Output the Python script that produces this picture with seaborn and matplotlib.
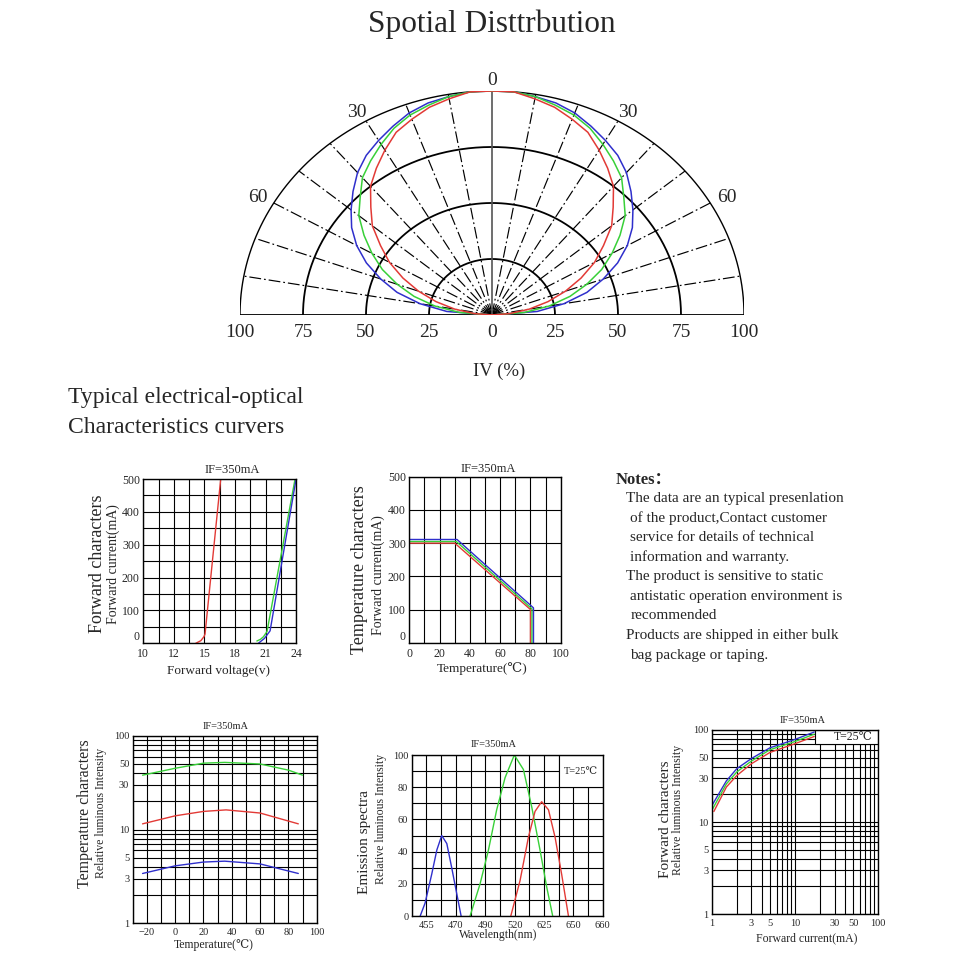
import numpy as np
import matplotlib
matplotlib.use("Agg")
import matplotlib.pyplot as plt
import seaborn as sns
from matplotlib.patches import Rectangle
from matplotlib.ticker import NullFormatter

sns.set_style("white")
plt.rcParams["font.family"] = ["Liberation Serif", "DejaVu Serif"]

RED, GREEN, BLUE = "#e23a36", "#38d038", "#2f2fcc"

# ---------------------------------------------------------------------
# data
# ---------------------------------------------------------------------
# spatial distribution: relative intensity (%) vs half angle (deg), symmetric
ANGLES = [0, 5, 10, 15, 20, 25, 30, 35, 40, 45, 50, 55, 60, 65, 70, 75, 80, 85, 90]
IV_BLUE = [100, 100, 99, 98, 96, 93, 90, 87, 83, 78, 73, 68, 62, 55, 47, 39, 29, 18, 0]
IV_GREEN = [100, 100, 99, 97, 95, 92, 88, 84, 80, 74, 69, 62, 55, 48, 40, 32, 23, 13, 0]
IV_RED = [100, 100, 98, 96, 93, 90, 85, 80, 75, 68, 62, 54, 47, 39, 31, 23, 15, 7, 0]
RINGS = [25, 50, 75, 100]
SPOKES = [-80, -70, -60, -50, -40, -30, -20, -10, 10, 20, 30, 40, 50, 60, 70, 80]
ANGLE_LABELS = [-60, -30, 0, 30, 60]

# forward characters: current (mA) vs voltage (V)
VF_TICKS = [10, 12, 15, 18, 21, 24]
VF_RED = [14.15, 14.65, 14.95, 15.06, 16.6]
IF_RED = [0, 8, 20, 28, 500]
VF_GREEN = [20.15, 20.5, 20.8, 21.15, 23.9]
IF_GREEN = [7, 12, 20, 36, 500]
VF_BLUE = [20.3, 20.9, 21.45, 24.0]
IF_BLUE = [0, 15, 38, 500]

# temperature derating: current (mA) vs temperature
T_RED = [0, 30, 80, 80]
I_RED = [300, 300, 100, 0]
T_GREEN = [0, 31, 81, 81]
I_GREEN = [305, 305, 102, 0]
T_BLUE = [0, 31.5, 82, 82]
I_BLUE = [311, 311, 105, 0]

# temperature vs relative luminous intensity
TL_GREEN = [-23, 0, 20, 35, 60, 80, 90]
L_GREEN = [38, 45, 51, 52, 50, 43, 38]
TL_RED = [-23, 0, 20, 36, 60, 87]
L_RED = [11.5, 14, 15.6, 16.2, 15, 11.5]
TL_BLUE = [-23, 0, 20, 35, 60, 87]
L_BLUE = [3.4, 4.1, 4.5, 4.6, 4.3, 3.4]

# emission spectra
WL_TICKS = [455, 470, 490, 520, 625, 650, 660]
WL_BLUE = [451.8, 454.3, 457.7, 460.3, 462.8, 465.4, 467.9, 470.6, 473.6]
S_BLUE = [0, 8, 26, 41, 50, 45, 30, 14, 0]
WL_GREEN = [479.7, 486.5, 493.3, 501.7, 510.3, 519.7, 551.5, 580.9, 610.8, 627.3, 632.4]
S_GREEN = [0, 20, 41, 66, 86, 100, 91, 68, 41, 18, 0]
WL_RED = [516.1, 539.4, 569.4, 593.0, 616.6, 628.8, 634.4, 640.0, 645.8]
S_RED = [0, 22, 49, 65, 71, 66, 49, 26, 0]

# forward current vs relative luminous intensity
IFL_BLUE = [1.0, 1.5, 2, 3, 5, 10, 17]
LF_BLUE = [15, 28, 38, 49, 64, 79, 95]
IFL_GREEN = [1.03, 1.5, 2, 3, 5, 10, 17]
LF_GREEN = [14, 26, 35, 46, 61, 75, 90]
IFL_RED = [1.06, 1.5, 2, 3, 5, 10, 17]
LF_RED = [13, 24, 32, 43, 57, 71, 85]
LOG_TICKS = [1, 3, 5, 10, 30, 50, 100]

NOTES = [
    (0, "The data are an typical presenlation"),
    (1, "of the product,Contact customer"),
    (1, "service for details of technical"),
    (1, "information and warranty."),
    (0, "The product is sensitive to static"),
    (1, "antistatic operation environment is"),
    (1, "recommended"),
    (0, "Products are shipped in either bulk"),
    (1, "bag package or taping."),
]

fig = plt.figure(figsize=(9.6, 9.6), dpi=100)

fig.text(0.5125, 0.975, "Spotial Disttrbution", ha="center", va="center", fontsize=22.5)

# ---------------------------------------------------------------------
# spatial distribution (drawn as half polar in a cartesian frame)
# ---------------------------------------------------------------------
ax0 = fig.add_axes([0.25, 0.6719, 0.525, 0.2333])
ax0.set_xlim(-100, 100)
ax0.set_ylim(0, 100)
ax0.axis("off")

t = np.linspace(0, np.pi, 240)
for r in RINGS:
    ax0.plot(r * np.cos(t), r * np.sin(t), color="black", lw=1.0 if r == 100 else 1.3)
for r in [1.5, 3]:
    ax0.plot(r * np.cos(t), r * np.sin(t), color="#444444", lw=1.0)
for a in SPOKES:
    th = np.radians(a)
    ax0.plot([0, 100 * np.sin(th)], [0, 100 * np.cos(th)], color="black",
             lw=0.85, ls=(0, (10, 2.5, 1.5, 2.5)))
ax0.plot([0, 0], [0, 100], color="#555555", lw=1.2)
ax0.plot([-100, 100], [0, 0], color="black", lw=1.3)

ang = np.radians(np.array(ANGLES, dtype=float))
ang_full = np.concatenate([-ang[::-1], ang[1:]])
for vals, col in [(IV_BLUE, BLUE), (IV_GREEN, GREEN), (IV_RED, RED)]:
    v = np.array(vals, dtype=float)
    r_full = np.concatenate([v[::-1], v[1:]])
    sns.lineplot(x=r_full * np.sin(ang_full), y=r_full * np.cos(ang_full), sort=False,
                 estimator=None, color=col, lw=1.1, ax=ax0, legend=False)

for a in ANGLE_LABELS:
    th = np.radians(a)
    ax0.text(107.5 * np.sin(th), 104.5 * np.cos(th), str(abs(a)), ha="center", va="center",
             fontsize=14, clip_on=False)
for r in [-100, -75, -50, -25, 0, 25, 50, 75, 100]:
    ax0.text(r, -8, str(abs(r)), ha="center", va="center", fontsize=14, clip_on=False)
ax0.text(3, -25, "IV (%)", ha="center", va="center", fontsize=13.5, clip_on=False)

fig.text(0.0708, 0.5855, "Typical electrical-optical", va="center", fontsize=17)
fig.text(0.0708, 0.5550, "Characteristics curvers", va="center", fontsize=17)


def style_panel(ax, tick_size):
    ax.set_axisbelow(True)
    ax.tick_params(which="both", length=0, labelsize=tick_size)
    ax.tick_params(axis="x", pad=3.5)
    ax.tick_params(axis="y", pad=2.5)
    ax.grid(True, which="both", color="black", lw=0.8)
    for s in ax.spines.values():
        s.set_color("black")
        s.set_linewidth(1.0)
    ax.set_xlabel("")
    ax.set_ylabel("")


def lines(ax, series):
    for xs, ys, col in series:
        sns.lineplot(x=xs, y=ys, sort=False, estimator=None, color=col, lw=1.0,
                     ax=ax, legend=False)


# ---------------------------------------------------------------------
# panel 1: forward characters
# ---------------------------------------------------------------------
ax1 = fig.add_axes([0.1493, 0.3299, 0.1591, 0.1711])
lines(ax1, [(VF_RED, IF_RED, RED), (VF_GREEN, IF_GREEN, GREEN), (VF_BLUE, IF_BLUE, BLUE)])
pos_v = np.arange(len(VF_TICKS), dtype=float)
ax1.set_xscale("function", functions=(lambda v: np.interp(v, VF_TICKS, pos_v),
                                      lambda p: np.interp(p, pos_v, VF_TICKS)))
ax1.set_xlim(10, 24)
ax1.set_ylim(0, 500)
ax1.set_xticks(VF_TICKS)
ax1.set_xticklabels([str(v) for v in VF_TICKS])
ax1.set_xticks(np.interp(np.arange(0.5, 5, 1.0), pos_v, VF_TICKS), minor=True)
ax1.set_yticks(range(0, 501, 100))
ax1.set_yticks(range(50, 500, 100), minor=True)
style_panel(ax1, 8.5)
ax1.get_yticklabels()[0].set_va("bottom")
ax1.text(0.58, 1.055, "IF=350mA", transform=ax1.transAxes, ha="center", va="center", fontsize=9)
ax1.text(-0.297, 0.483, "Forward characters", transform=ax1.transAxes, rotation=90,
         ha="center", va="center", fontsize=13)
ax1.text(-0.198, 0.483, "Forward current(mA)", transform=ax1.transAxes, rotation=90,
         ha="center", va="center", fontsize=10)
ax1.text(0.49, -0.167, "Forward voltage(v)", transform=ax1.transAxes, ha="center",
         va="center", fontsize=9.5)

# ---------------------------------------------------------------------
# panel 2: temperature characters (derating)
# ---------------------------------------------------------------------
ax2 = fig.add_axes([0.4264, 0.3305, 0.1577, 0.1729])
lines(ax2, [(T_RED, I_RED, RED), (T_GREEN, I_GREEN, GREEN), (T_BLUE, I_BLUE, BLUE)])
ax2.set_xlim(0, 100)
ax2.set_ylim(0, 500)
ax2.set_xticks(range(0, 101, 20))
ax2.set_xticks(range(10, 100, 20), minor=True)
ax2.set_yticks(range(0, 501, 100))
style_panel(ax2, 8.5)
ax2.get_yticklabels()[0].set_va("bottom")
ax2.text(0.52, 1.045, "IF=350mA", transform=ax2.transAxes, ha="center", va="center", fontsize=9)
ax2.text(-0.326, 0.438, "Temperature characters", transform=ax2.transAxes, rotation=90,
         ha="center", va="center", fontsize=13)
ax2.text(-0.206, 0.41, "Forward current(mA)", transform=ax2.transAxes, rotation=90,
         ha="center", va="center", fontsize=10)
ax2.text(0.478, -0.158, "Temperature(\u2103)", transform=ax2.transAxes, ha="center",
         va="center", fontsize=9.5)

# ---------------------------------------------------------------------
# notes
# ---------------------------------------------------------------------
fig.text(0.6417, 1 - 480 / 960, "Notes\uff1a", fontweight="bold", va="center", fontsize=12,
         family=["Liberation Serif", "Noto Sans CJK SC"])
for i, (indent, line) in enumerate(NOTES):
    x0 = (626.5 + 4 * indent) / 960
    y0 = 1 - (498.3 + 19.6 * i) / 960
    fig.text(x0, y0, line, va="center", fontsize=11)

# ---------------------------------------------------------------------
# panel 4: temperature vs relative luminous intensity
# ---------------------------------------------------------------------
ax4 = fig.add_axes([0.1382, 0.0382, 0.1917, 0.1954])
lines(ax4, [(TL_GREEN, L_GREEN, GREEN), (TL_RED, L_RED, RED), (TL_BLUE, L_BLUE, BLUE)])
ax4.set_yscale("log")
ax4.set_xlim(-30, 100)
ax4.set_ylim(1, 100)
ax4.set_xticks(range(-20, 101, 20))
ax4.set_xticks(range(-30, 100, 20), minor=True)
ax4.set_yticks(LOG_TICKS)
ax4.set_yticklabels([str(v) for v in LOG_TICKS])
ax4.yaxis.set_minor_formatter(NullFormatter())
style_panel(ax4, 7.5)
ax4.text(0.506, 1.048, "IF=350mA", transform=ax4.transAxes, ha="center", va="center", fontsize=7.5)
ax4.text(-0.259, 0.583, "Temperature characters", transform=ax4.transAxes, rotation=90,
         ha="center", va="center", fontsize=11.5)
ax4.text(-0.174, 0.59, "Relative luminous Intensity", transform=ax4.transAxes, rotation=90,
         ha="center", va="center", fontsize=8.5)
ax4.text(0.442, -0.116, "Temperature(\u2103)", transform=ax4.transAxes, ha="center",
         va="center", fontsize=8.5)

# ---------------------------------------------------------------------
# panel 5: emission spectra
# ---------------------------------------------------------------------
ax5 = fig.add_axes([0.4289, 0.0458, 0.1990, 0.1677])
lines(ax5, [(WL_BLUE, S_BLUE, BLUE), (WL_GREEN, S_GREEN, GREEN), (WL_RED, S_RED, RED)])
wl_anchor = [447.5] + WL_TICKS
pos_wl = [0.0] + [1.0 + 2 * i for i in range(len(WL_TICKS))]
ax5.set_xscale("function", functions=(lambda v: np.interp(v, wl_anchor, pos_wl),
                                      lambda p: np.interp(p, pos_wl, wl_anchor)))
ax5.set_xlim(447.5, 660)
ax5.set_ylim(0, 100)
ax5.set_xticks(WL_TICKS)
ax5.set_xticklabels([str(v) for v in WL_TICKS])
ax5.set_xticks(np.interp(np.arange(0, 13, 2.0), pos_wl, wl_anchor), minor=True)
ax5.set_yticks(range(0, 101, 20))
ax5.set_yticks(range(10, 100, 20), minor=True)
style_panel(ax5, 7.5)
ax5.add_patch(Rectangle((10 / 13, 0.8), 3 / 13, 0.2, transform=ax5.transAxes,
                        facecolor="white", edgecolor="black", lw=0.8, zorder=1))
ax5.text(11.5 / 13, 0.9, "T=25\u2103", transform=ax5.transAxes, ha="center", va="center",
         fontsize=7.5, zorder=3)
ax5.text(0.426, 1.068, "IF=350mA", transform=ax5.transAxes, ha="center", va="center", fontsize=7.5)
ax5.text(-0.245, 0.46, "Emission spectra", transform=ax5.transAxes, rotation=90,
         ha="center", va="center", fontsize=11)
ax5.text(-0.162, 0.60, "Relative luminous Intensity", transform=ax5.transAxes, rotation=90,
         ha="center", va="center", fontsize=8.5)
ax5.text(0.452, -0.118, "Wavelength(nm)", transform=ax5.transAxes, ha="center",
         va="center", fontsize=8.5)

# ---------------------------------------------------------------------
# panel 6: forward current vs relative luminous intensity
# ---------------------------------------------------------------------
ax6 = fig.add_axes([0.7414, 0.0479, 0.1735, 0.1917])
lines(ax6, [(IFL_BLUE, LF_BLUE, BLUE), (IFL_GREEN, LF_GREEN, GREEN), (IFL_RED, LF_RED, RED)])
ax6.set_xscale("log")
ax6.set_yscale("log")
ax6.set_xlim(1, 100)
ax6.set_ylim(1, 100)
ax6.set_xticks(LOG_TICKS)
ax6.set_xticklabels([str(v) for v in LOG_TICKS])
ax6.set_yticks(LOG_TICKS)
ax6.set_yticklabels([str(v) for v in LOG_TICKS])
ax6.xaxis.set_minor_formatter(NullFormatter())
ax6.yaxis.set_minor_formatter(NullFormatter())
style_panel(ax6, 7.5)
ax6.add_patch(Rectangle((17.5, 70), 82.5, 30, facecolor="white", edgecolor="black",
                        lw=0.8, zorder=1))
ax6.text(0.848, 0.962, "T=25\u2103", transform=ax6.transAxes, ha="center", va="center",
         fontsize=8.5, zorder=3)
ax6.text(0.545, 1.05, "IF=350mA", transform=ax6.transAxes, ha="center", va="center", fontsize=7.5)
ax6.text(-0.28, 0.516, "Forward characters", transform=ax6.transAxes, rotation=90,
         ha="center", va="center", fontsize=11)
ax6.text(-0.202, 0.565, "Relative luminous Intensity", transform=ax6.transAxes, rotation=90,
         ha="center", va="center", fontsize=8.5)
ax6.text(0.57, -0.13, "Forward current(mA)", transform=ax6.transAxes, ha="center",
         va="center", fontsize=8.5)

fig.savefig("out.png", dpi=100, facecolor="white")
